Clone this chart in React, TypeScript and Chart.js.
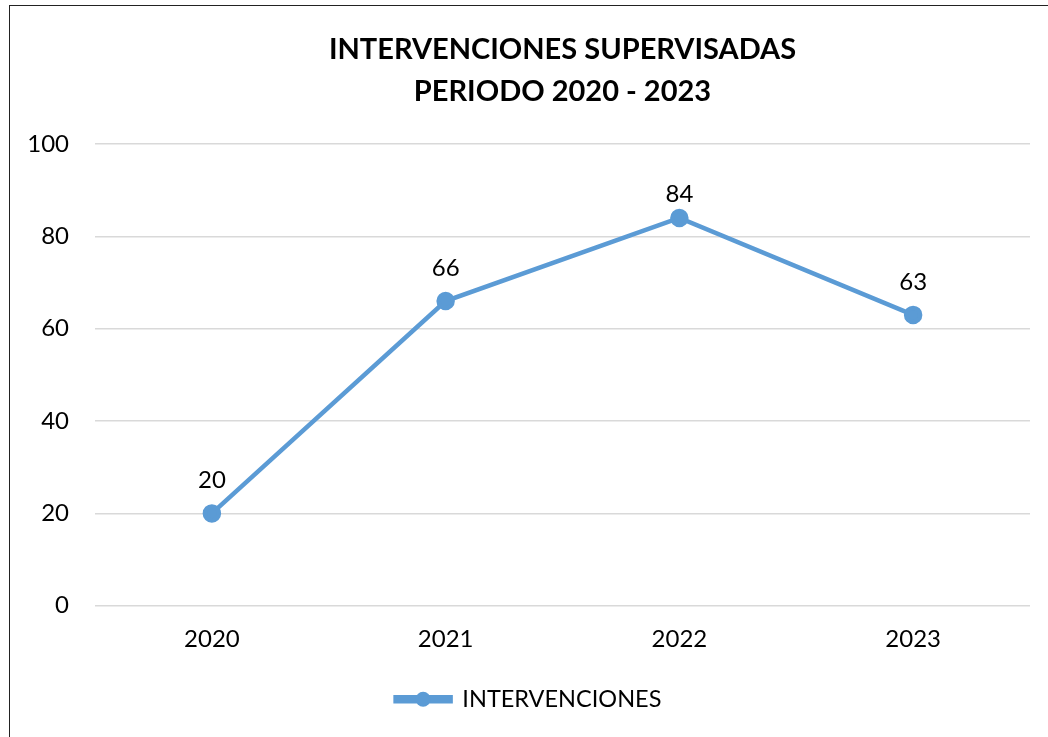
import React, { useEffect, useRef } from "react";
import { Chart, registerables } from "chart.js";

Chart.register(...registerables);

const categories = ["2020", "2021", "2022", "2023"];
const seriesName = "INTERVENCIONES";
const values = [20, 66, 84, 63];
const titleLines = ["INTERVENCIONES SUPERVISADAS", "PERIODO 2020 - 2023"];
const yMin = 0;
const yMax = 100;
const yStep = 20;

const BLUE = "#5b9bd5";
const FONT = "Lato, 'Open Sans', sans-serif";

const dataLabelPlugin = {
  id: "dataLabels",
  afterDatasetsDraw(chart: any) {
    const ctx = chart.ctx;
    const meta = chart.getDatasetMeta(0);
    ctx.save();
    ctx.font = `24px ${FONT}`;
    ctx.fillStyle = "#000";
    ctx.textAlign = "center";
    ctx.textBaseline = "middle";
    meta.data.forEach((el: any, i: number) => {
      const y = Math.max(el.y - 33, chart.chartArea.top + 50);
      ctx.fillText(String(chart.data.datasets[0].data[i]), el.x, y);
    });
    ctx.restore();
  },
};

const legendMarkerPlugin = {
  id: "legendMarker",
  afterDraw(chart: any) {
    const legend = chart.legend;
    if (!legend || !legend.legendHitBoxes) return;
    const ctx = chart.ctx;
    ctx.save();
    legend.legendHitBoxes.forEach((box: any) => {
      const bw = legend.options.labels.boxWidth;
      const cx = box.left + bw / 2;
      const cy = box.top + box.height / 2;
      ctx.fillStyle = BLUE;
      ctx.beginPath();
      ctx.arc(cx, cy, 7.5, 0, Math.PI * 2);
      ctx.fill();
    });
    ctx.restore();
  },
};

export default function App() {
  const ref = useRef<HTMLCanvasElement>(null);
  useEffect(() => {
    if (!ref.current) return;
    const chart = new Chart(ref.current, {
      type: "line",
      data: {
        labels: categories,
        datasets: [
          {
            label: seriesName,
            data: values,
            borderColor: BLUE,
            backgroundColor: BLUE,
            borderWidth: 4.5,
            pointRadius: 7,
            pointBackgroundColor: BLUE,
            pointBorderColor: BLUE,
            tension: 0,
          },
        ],
      },
      options: {
        animation: false,
        responsive: false,
        maintainAspectRatio: false,
        layout: { padding: { top: 13, left: 17, right: 54, bottom: 16 } },
        scales: {
          x: {
            offset: true,
            grid: { display: false },
            border: { display: false },
            ticks: { color: "#000", font: { family: FONT, size: 24 }, padding: 11 },
          },
          y: {
            min: yMin,
            max: yMax,
            afterFit: (scale: any) => {
              scale.width = 68;
            },
            ticks: { stepSize: yStep, color: "#000", font: { family: FONT, size: 24 }, padding: 26 },
            grid: { color: "#d9d9d9", lineWidth: 1.5, drawTicks: false },
            border: { display: false },
          },
        },
        plugins: {
          title: {
            display: true,
            text: titleLines,
            fullSize: false,
            color: "#000",
            font: { family: FONT, size: 29, weight: "bold", lineHeight: 1.45 },
            padding: { top: 10, bottom: 31 },
          },
          legend: {
            display: true,
            position: "bottom",
            labels: {
              color: "#000",
              font: { family: FONT, size: 23.5 },
              boxWidth: 55,
              boxHeight: 4,
              padding: 23,
            },
          },
          tooltip: { enabled: false },
        },
      },
      plugins: [dataLabelPlugin, legendMarkerPlugin],
    });
    return () => chart.destroy();
  }, []);

  return (
    <div style={{ position: "fixed", inset: 0, overflow: "hidden", background: "#fff" }}>
      <div
        style={{
          position: "absolute",
          left: 9,
          top: 5,
          width: 1200,
          height: 900,
          borderLeft: "1.5px solid #222",
          borderTop: "1.5px solid #222",
        }}
      />
      <canvas
        ref={ref}
        width={1074}
        height={731}
        style={{ position: "absolute", left: 10, top: 6, width: 1074, height: 731 }}
      />
    </div>
  );
}
